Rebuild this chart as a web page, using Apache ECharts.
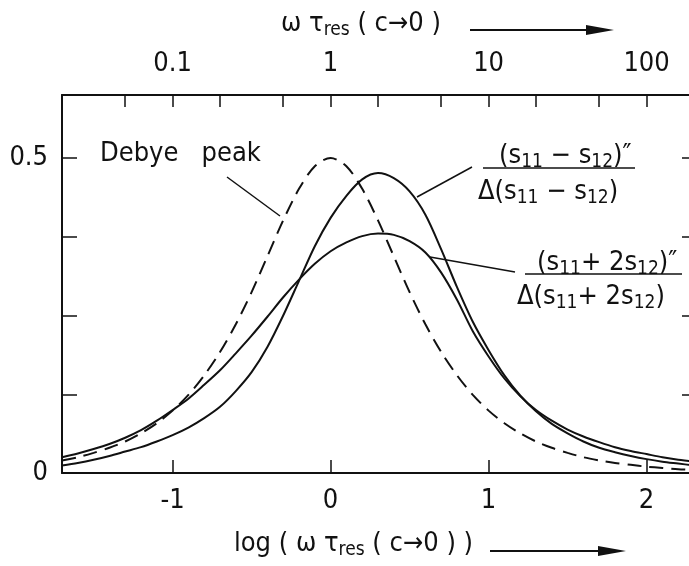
<!DOCTYPE html>
<html><head><meta charset="utf-8">
<script src="https://cdn.jsdelivr.net/npm/echarts@6/dist/echarts.min.js"></script>
<style>html,body{margin:0;padding:0;background:#fff;overflow:hidden}#c{width:700px;height:566px}</style>
</head><body><div id="c"></div>
<script>
// log(omega*tau_res) sample positions
const logX = [-1.7,-1.6,-1.5,-1.4,-1.3,-1.2,-1.1,-1.0,-0.9,-0.8,-0.7,-0.6,-0.5,-0.4,-0.3,-0.2,-0.1,0.0,0.1,0.2,0.3,0.4,0.5,0.6,0.7,0.8,0.9,1.0,1.1,1.2,1.3,1.4,1.5,1.6,1.7,1.8,1.9,2.0,2.1,2.2,2.3];
// Debye peak (dashed)
const debyePeak = [0.020,0.025,0.032,0.040,0.050,0.063,0.079,0.099,0.124,0.155,0.192,0.236,0.287,0.344,0.401,0.451,0.487,0.500,0.487,0.451,0.401,0.344,0.287,0.236,0.192,0.155,0.124,0.099,0.079,0.063,0.050,0.040,0.032,0.025,0.020,0.016,0.013,0.010,0.008,0.006,0.005];
// (s11 - s12)'' / Δ(s11 - s12)
const s11MinusS12 = [0.012,0.016,0.021,0.027,0.034,0.041,0.050,0.060,0.072,0.087,0.105,0.130,0.160,0.200,0.250,0.305,0.360,0.405,0.440,0.466,0.476,0.468,0.447,0.410,0.355,0.295,0.240,0.195,0.155,0.123,0.098,0.078,0.063,0.050,0.040,0.033,0.027,0.022,0.018,0.015,0.012];
// (s11 + 2 s12)'' / Δ(s11 + 2 s12)
const s11Plus2S12 = [0.025,0.031,0.038,0.046,0.056,0.068,0.083,0.100,0.118,0.140,0.163,0.190,0.218,0.248,0.279,0.307,0.332,0.352,0.366,0.376,0.380,0.378,0.368,0.350,0.318,0.275,0.225,0.185,0.150,0.122,0.100,0.083,0.069,0.058,0.049,0.041,0.035,0.030,0.025,0.021,0.018];
// axis ticks / labels
const bottomTicks = [-1, 0, 1, 2];
const topTickValues = [0.05, 0.1, 0.2, 0.5, 1, 2, 5, 10, 20, 50, 100];
const topLabelValues = [0.1, 1, 10, 100];
const yTicks = [0, 0.125, 0.25, 0.375, 0.5];
const yLabels = [0, 0.5];

const FONT = '"DejaVu Sans Condensed", "DejaVu Sans", sans-serif';
const BLACK = '#111';
const toPairs = ys => logX.map((x, i) => [x, ys[i]]);

const chart = echarts.init(document.getElementById('c'), null, {renderer: 'canvas'});

const axisCommon = {
  type: 'value', min: -1.7, max: 2.3,
  axisLine: {show: true, onZero: false, lineStyle: {color: BLACK, width: 2}},
  splitLine: {show: false},
};

const sub = {fontSize: 19, fontFamily: FONT, color: BLACK, padding: [13, 0, 0, 0]};
const big = {fontSize: 27, fontFamily: FONT, color: BLACK};

function txt(x, y, text, extra) {
  return Object.assign({type: 'text', x: x, y: y, style: {text: text, font: '27px ' + FONT, fill: BLACK, rich: {sub: sub, b: big}}}, extra || {});
}
function line(x1, y1, x2, y2, w) {
  return {type: 'line', shape: {x1, y1, x2, y2}, style: {stroke: BLACK, lineWidth: w || 1.5}};
}
function arrow(x1, x2, y) {
  return [
    line(x1, y, x2 - 24, y, 2),
    {type: 'polygon', shape: {points: [[x2 - 28, y - 5], [x2, y], [x2 - 28, y + 5]]}, style: {fill: BLACK}}
  ];
}

chart.setOption({
  animation: false,
  backgroundColor: '#fff',
  grid: {left: 62, right: 6, top: 95, bottom: 93, containLabel: false},
  xAxis: [
    Object.assign({}, axisCommon, {
      position: 'bottom',
      axisTick: {show: true, inside: true, length: 13, customValues: bottomTicks, lineStyle: {color: BLACK, width: 1.5}},
      axisLabel: {customValues: bottomTicks, margin: 14, fontSize: 27, fontFamily: FONT, color: BLACK,
        formatter: v => (v < 0 ? '-' + Math.abs(v) : String(v))}
    }),
    Object.assign({}, axisCommon, {
      position: 'top',
      axisTick: {show: true, inside: true, length: 12, customValues: topTickValues.map(Math.log10), lineStyle: {color: BLACK, width: 1.5}},
      axisLabel: {customValues: topLabelValues.map(Math.log10), margin: 18, fontSize: 27, fontFamily: FONT, color: BLACK,
        formatter: v => String(parseFloat(Math.pow(10, v).toPrecision(6)))}
    })
  ],
  yAxis: [
    {type: 'value', min: 0, max: 0.6, position: 'left',
      axisLine: {show: true, onZero: false, lineStyle: {color: BLACK, width: 2}},
      splitLine: {show: false},
      axisTick: {show: true, inside: true, length: 15, customValues: yTicks, lineStyle: {color: BLACK, width: 1.5}},
      axisLabel: {customValues: yLabels, margin: 14, fontSize: 27, fontFamily: FONT, color: BLACK,
        formatter: v => String(v)}},
    {type: 'value', min: 0, max: 0.6, position: 'right',
      axisLine: {show: true, onZero: false, lineStyle: {color: BLACK, width: 2}},
      splitLine: {show: false},
      axisTick: {show: true, inside: true, length: 12, customValues: yTicks, lineStyle: {color: BLACK, width: 1.5}},
      axisLabel: {show: false}}
  ],
  series: [
    {name: 'Debye peak', type: 'line', data: toPairs(debyePeak), smooth: 0.3, showSymbol: false,
      lineStyle: {color: BLACK, width: 2, type: [14, 8]}},
    {name: '(s11-s12)', type: 'line', data: toPairs(s11MinusS12), smooth: 0.3, showSymbol: false,
      lineStyle: {color: BLACK, width: 2}},
    {name: '(s11+2s12)', type: 'line', data: toPairs(s11Plus2S12), smooth: 0.3, showSymbol: false,
      lineStyle: {color: BLACK, width: 2}}
  ],
  graphic: [
    // top title
    txt(281, 8, 'ω τ{sub|res} ( c→0 )'),
    ...arrow(470, 614, 30),
    // bottom title
    txt(234, 528, 'log ( ω τ{sub|res} ( c→0 ) )'),
    ...arrow(490, 626, 551),
    // Debye peak label
    txt(100, 140, 'Debye   peak'),
    line(227, 177, 280, 216),
    // (s11 - s12)
    txt(499, 140, '(s{sub|11} − s{sub|12})″'),
    line(483, 168, 635, 168, 1.5),
    txt(478, 176, 'Δ(s{sub|11} − s{sub|12})'),
    line(472, 167, 417, 197),
    // (s11 + 2s12)
    txt(537, 247, '(s{sub|11}+ 2s{sub|12})″'),
    line(525, 274, 682, 274, 1.5),
    txt(517, 281, 'Δ(s{sub|11}+ 2s{sub|12})'),
    line(515, 272, 430, 257)
  ]
});
</script></body></html>
